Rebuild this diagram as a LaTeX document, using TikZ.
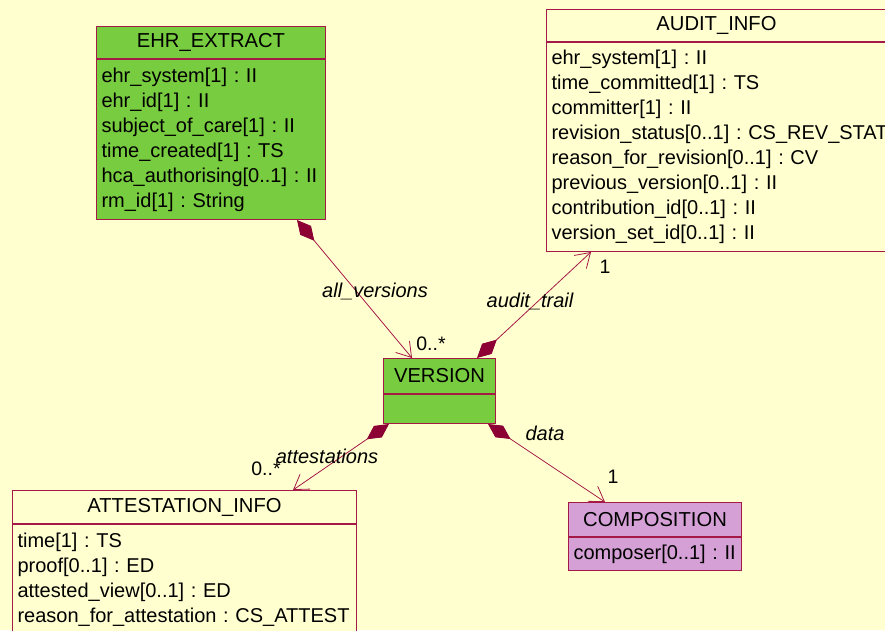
\documentclass[tikz,border=0pt]{standalone}
\usepackage{fontspec}
\setmainfont{Liberation Sans}
\usetikzlibrary{positioning,arrows.meta}

\definecolor{umlback}{RGB}{255,255,208}
\definecolor{umlborder}{RGB}{165,25,70}
\definecolor{umldiamond}{RGB}{140,0,52}
\definecolor{umlgreen}{RGB}{120,204,64}
\definecolor{umlviolet}{RGB}{213,160,214}
\frenchspacing

\begin{document}
\begin{tikzpicture}[x=1pt,y=-1pt,line width=1pt,
    classhead/.style={draw=umlborder,inner sep=0pt,anchor=north west,font=\fontsize{20.2}{25}\selectfont},
    classbody/.style={draw=umlborder,inner xsep=5pt,inner ysep=0pt,align=left,font=\fontsize{20}{25}\selectfont},
    rolelabel/.style={font=\fontsize{20}{22}\selectfont\itshape},
    multlabel/.style={font=\fontsize{19.5}{22}\selectfont},
    assoc/.style={draw=umlborder,line width=0.8pt,
        arrows={Diamond[length=27pt,width=14pt,color=umldiamond,fill=umldiamond]-Straight Barb[length=14pt,width=18pt]}}]
                \path[use as bounding box,fill=umlback] (0,0) rectangle (885,630);
                % classes
                \node[classhead,fill=umlgreen,minimum width=229pt,minimum height=32pt] (ehrhead) at (96,26) {EHR\_EXTRACT};
                \node[classbody,fill=umlgreen,text width=219pt,minimum height=160pt,below=0pt of ehrhead] (ehrbody)
                    {ehr\_system[1] : II\\ehr\_id[1] : II\\subject\_of\_care[1] : II\\time\_created[1] : TS\\hca\_authorising[0..1] : II\\rm\_id[1] : String};
                \node[classhead,fill=umlback,minimum width=340pt,minimum height=32pt] (audithead) at (546,9) {AUDIT\_INFO};
                \node[classbody,fill=umlback,text width=330pt,minimum height=209pt,below=0pt of audithead] (auditbody)
                    {ehr\_system[1] : II\\time\_committed[1] : TS\\committer[1] : II\\\mbox{revision\_status[0..1] : CS\_REV\_STAT}\\reason\_for\_revision[0..1] : CV\\previous\_version[0..1] : II\\contribution\_id[0..1] : II\\version\_set\_id[0..1] : II};
                \node[classhead,fill=umlgreen,minimum width=112pt,minimum height=35pt] (verhead) at (383,358) {VERSION};
                \node[classbody,fill=umlgreen,minimum width=112pt,minimum height=29pt,below=0pt of verhead] (verbody) {};
                \node[classhead,fill=umlback,minimum width=344pt,minimum height=33pt] (attesthead) at (12,490) {ATTESTATION\_INFO};
                \node[classbody,fill=umlback,text width=334pt,minimum height=110pt,below=0pt of attesthead] (attestbody)
                    {time[1] : TS\\proof[0..1] : ED\\attested\_view[0..1] : ED\\reason\_for\_attestation : CS\_ATTEST};
                \node[classhead,fill=umlviolet,minimum width=173pt,minimum height=34pt] (comphead) at (568,502) {COMPOSITION};
                \node[classbody,fill=umlviolet,text width=163pt,minimum height=33pt,below=0pt of comphead] (compbody)
                    {composer[0..1] : II};
                % associations
                \draw[assoc] ([xshift=-29pt]ehrbody.south east) -- ([xshift=29pt]verhead.north west);
                \draw[assoc] ([xshift=-19pt]verhead.north east) -- ([xshift=45pt]auditbody.south west);
                \draw[assoc] ([xshift=6pt]verbody.south west) -- ([xshift=-64pt]attesthead.north east);
                \draw[assoc] ([xshift=-8pt]verbody.south east) -- ([xshift=37pt]comphead.north west);
                \node[rolelabel] (allversions) at (375,291) {all\_versions};
                \node[multlabel] (allmult) at (431,344) {0..*};
                \node[rolelabel] (audittrail) at (530,301) {audit\_trail};
                \node[multlabel] (auditmult) at (605,267) {1};
                \node[rolelabel] (attestations) at (327,456) {attestations};
                \node[multlabel] (attestmult) at (266,469) {0..*};
                \node[rolelabel] (datarole) at (545,433) {data};
                \node[multlabel] (datamult) at (613,477) {1};
            \end{tikzpicture}
\end{document}
